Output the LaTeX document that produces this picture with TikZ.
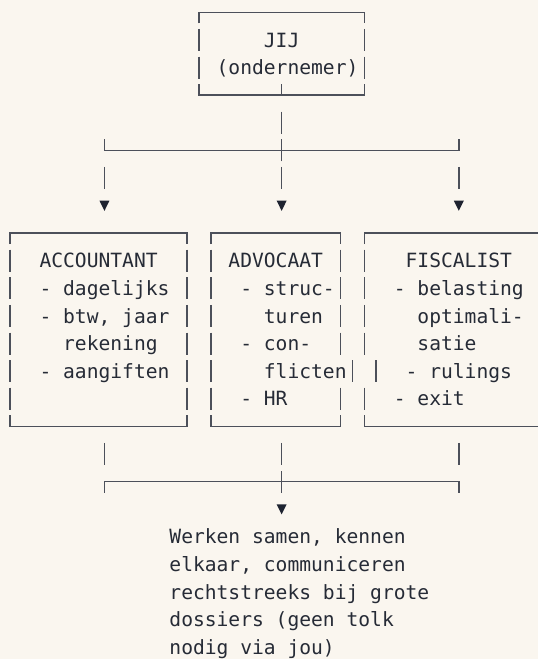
\documentclass[tikz,border=0pt]{standalone}
\usepackage{fontspec}
\newfontfamily\monofam{DejaVu Sans Mono}
\definecolor{bg}{HTML}{FAF6EF}
\definecolor{linec}{HTML}{4C505A}
\definecolor{txtc}{HTML}{262B36}
\definecolor{arrc}{HTML}{1E2330}
\def\XC#1{(10+11.81*(#1))}
\def\YR#1{(12.3+27.6*(#1))}
\tikzset{
  ln/.style={draw=linec, line width=1.5pt},
  txt/.style={anchor=base west, inner sep=0pt, outer sep=0pt, text=txtc,
    font=\monofam\fontsize{19.62}{27.6}\selectfont},
}
% bar glyph in column #1, row #2
\newcommand\mybar[2]{\draw[ln] ({\XC{#1}},{\YR{#2}-11}) -- ({\XC{#1}},{\YR{#2}+11});}
% text line: name, column, row, text
\newcommand\mytext[4]{\node[txt] (#1) at ({\XC{#2}-5.9},{\YR{#3}+7.1}) {#4};}
% down triangle at column #1, row #2, named #3
\newcommand\mytri[3]{\coordinate (#3) at ({\XC{#1}},{\YR{#2}});
  \fill[arrc] ([shift={(-5,-4.8)}]#3) -- ([shift={(5,-4.8)}]#3) -- ([shift={(0,5.3)}]#3) -- cycle;}
% box top / bottom: col1, col2, row
\newcommand\boxtop[3]{\draw[ln] ({\XC{#1}},{\YR{#3}+11}) -- ({\XC{#1}},{\YR{#3}}) -- ({\XC{#2}},{\YR{#3}}) -- ({\XC{#2}},{\YR{#3}+11});}
\newcommand\boxbot[3]{\draw[ln] ({\XC{#1}},{\YR{#3}-11}) -- ({\XC{#1}},{\YR{#3}}) -- ({\XC{#2}},{\YR{#3}}) -- ({\XC{#2}},{\YR{#3}-11});}
\begin{document}
\begin{tikzpicture}[x=1pt,y=-1pt]
\fill[bg] (0,0) rectangle (538,659);
\useasboundingbox (0,0) rectangle (538,659);
\frenchspacing
% ---- top box: JIJ
\boxtop{16}{30}{0}
\mybar{16}{1}\mybar{30}{1}
\mybar{16}{2}\mybar{30}{2}
\boxbot{16}{30}{3}
\mytext{jij1}{22}{1}{JIJ}
\mytext{jij2}{18}{2}{(ondernemer)}
% ---- connector down and split
\coordinate (jijs) at ({\XC{23}},{\YR{3}});
\coordinate (split) at ({\XC{23}},{\YR{5}});
\coordinate (splitL) at ({\XC{8}},{\YR{5}});
\coordinate (splitR) at ({\XC{38}},{\YR{5}});
\draw[ln] (jijs) -- ([yshift=11]jijs);
\mybar{23}{4}
\draw[ln] ([yshift=11]splitL) -- (splitL) -- (splitR) -- ([yshift=11]splitR);
\draw[ln] ([yshift=-11]split) -- ([yshift=11]split);
\mybar{8}{6}\mybar{23}{6}\mybar{38}{6}
\mytri{8}{7}{arrA}
\mytri{23}{7}{arrB}
\mytri{38}{7}{arrC}
% ---- three boxes
\boxtop{0}{15}{8}
\boxtop{17}{28}{8}
\draw[ln] ({\XC{30}},{\YR{8}+11}) -- ({\XC{30}},{\YR{8}}) -- (545,{\YR{8}});
\foreach \r in {9,10,11,12,14}{
  \mybar{0}{\r}\mybar{15}{\r}\mybar{17}{\r}\mybar{28}{\r}\mybar{30}{\r}
}
\mybar{0}{13}\mybar{15}{13}\mybar{17}{13}\mybar{29}{13}\mybar{31}{13}
\boxbot{0}{15}{15}
\boxbot{17}{28}{15}
\draw[ln] ({\XC{30}},{\YR{15}-11}) -- ({\XC{30}},{\YR{15}}) -- (545,{\YR{15}});
% accountant
\mytext{acc0}{3}{9}{ACCOUNTANT}
\mytext{acc1}{3}{10}{- dagelijks}
\mytext{acc2}{3}{11}{- btw, jaar}
\mytext{acc3}{5}{12}{rekening}
\mytext{acc4}{3}{13}{- aangiften}
% advocaat
\mytext{adv0}{19}{9}{ADVOCAAT}
\mytext{adv1}{20}{10}{- struc-}
\mytext{adv2}{22}{11}{turen}
\mytext{adv3}{20}{12}{- con-}
\mytext{adv4}{22}{13}{flicten}
\mytext{adv5}{20}{14}{- HR}
% fiscalist
\mytext{fis0}{34}{9}{FISCALIST}
\mytext{fis1}{33}{10}{- belasting}
\mytext{fis2}{35}{11}{optimali-}
\mytext{fis3}{35}{12}{satie}
\mytext{fis4}{34}{13}{- rulings}
\mytext{fis5}{33}{14}{- exit}
% ---- merge connector
\mybar{8}{16}\mybar{23}{16}\mybar{38}{16}
\coordinate (mergeL) at ({\XC{8}},{\YR{17}});
\coordinate (merge) at ({\XC{23}},{\YR{17}});
\coordinate (mergeR) at ({\XC{38}},{\YR{17}});
\draw[ln] ([yshift=-11]mergeL) -- (mergeL) -- (mergeR) -- ([yshift=-11]mergeR);
\draw[ln] ([yshift=-11]merge) -- ([yshift=11]merge);
\mytri{23}{18}{arrD}
% ---- note
\mytext{note1}{14}{19}{Werken samen, kennen}
\mytext{note2}{14}{20}{elkaar, communiceren}
\mytext{note3}{14}{21}{rechtstreeks bij grote}
\mytext{note4}{14}{22}{dossiers (geen tolk}
\mytext{note5}{14}{23}{nodig via jou)}
\end{tikzpicture}
\end{document}
